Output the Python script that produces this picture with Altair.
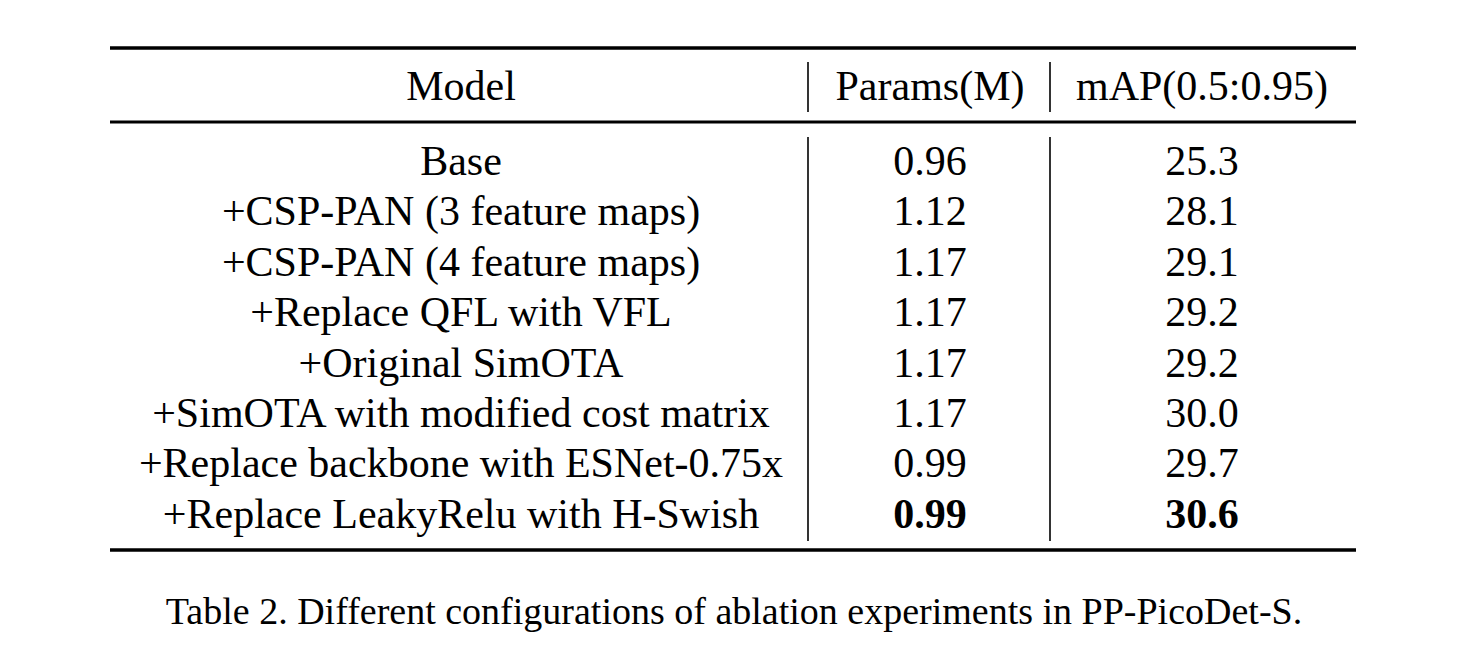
import altair as alt
import pandas as pd

# ---- data ----
headers = ["Model", "Params(M)", "mAP(0.5:0.95)"]
models = [
    "Base",
    "+CSP-PAN (3 feature maps)",
    "+CSP-PAN (4 feature maps)",
    "+Replace QFL with VFL",
    "+Original SimOTA",
    "+SimOTA with modified cost matrix",
    "+Replace backbone with ESNet-0.75x",
    "+Replace LeakyRelu with H-Swish",
]
params = ["0.96", "1.12", "1.17", "1.17", "1.17", "1.17", "0.99", "0.99"]
maps = ["25.3", "28.1", "29.1", "29.2", "29.2", "30.0", "29.7", "30.6"]
bold_row = [False, False, False, False, False, False, False, True]
caption = "Table 2. Different configurations of ablation experiments in PP-PicoDet-S."

# ---- layout (image pixel coordinates) ----
W, H, M = 1472, 652, 8
col_x = [461, 930, 1202]
header_base = 100
row_base0 = 175
row_step = 50.4
rule_left, rule_right = 110, 1356
hrules = [(48, 3.5), (122, 3.0), (550, 3.5)]
vlines_x = [808, 1050]
vsegs = [(62, 112), (137, 541)]
caption_x, caption_base = 734, 624
FONT = "Times New Roman, Liberation Serif, Times, serif"
FS = 42
CAP_FS = 38

xs = alt.Scale(domain=[M, W - M], range=[0, W - 2 * M])
ys = alt.Scale(domain=[M, H - M], range=[0, H - 2 * M])

cells = []
for j, h in enumerate(headers):
    cells.append({"x": col_x[j], "y": header_base, "t": h, "bold": False})
for i in range(len(models)):
    yb = row_base0 + row_step * i
    cells.append({"x": col_x[0], "y": yb, "t": models[i], "bold": False})
    cells.append({"x": col_x[1], "y": yb, "t": params[i], "bold": bold_row[i]})
    cells.append({"x": col_x[2], "y": yb, "t": maps[i], "bold": bold_row[i]})
cdf = pd.DataFrame(cells)

X = alt.X("x:Q", scale=xs, axis=None)
Y = alt.Y("y:Q", scale=ys, axis=None)

base = alt.Chart(cdf)
txt_normal = base.transform_filter("!datum.bold").mark_text(
    font=FONT, fontSize=FS, align="center", baseline="alphabetic", color="#000"
).encode(x=X, y=Y, text="t:N")
txt_bold = base.transform_filter("datum.bold").mark_text(
    font=FONT, fontSize=FS, fontWeight="bold", align="center", baseline="alphabetic", color="#000"
).encode(x=X, y=Y, text="t:N")

hr_layers = []
for yv, sw in hrules:
    hr_layers.append(
        alt.Chart(pd.DataFrame([{"x": rule_left, "x2": rule_right, "y": yv}]))
        .mark_rule(color="#000", strokeWidth=sw)
        .encode(x=X, x2="x2:Q", y=Y)
    )

vrows = []
for xv in vlines_x:
    for a, b in vsegs:
        vrows.append({"x": xv, "y": a, "y2": b})
vr = alt.Chart(pd.DataFrame(vrows)).mark_rule(color="#000", strokeWidth=1.6).encode(
    x=X, y=Y, y2="y2:Q"
)

cap = alt.Chart(pd.DataFrame([{"x": caption_x, "y": caption_base, "t": caption}])).mark_text(
    font=FONT, fontSize=CAP_FS, align="center", baseline="alphabetic", color="#000"
).encode(x=X, y=Y, text="t:N")

chart = alt.layer(txt_normal, txt_bold, *hr_layers, vr, cap).properties(
    width=W - 2 * M, height=H - 2 * M, padding=0, autosize="none", background="white"
).configure_view(strokeWidth=0)

chart.save("out.html", embed_options={"renderer": "svg", "actions": False})
